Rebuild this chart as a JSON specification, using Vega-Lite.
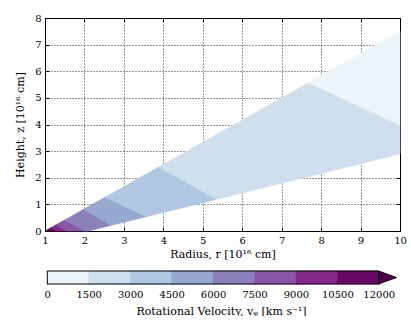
{
  "$schema": "https://vega.github.io/schema/vega-lite/v6.json",
  "background": "white",
  "padding": {"left": 14, "top": 12, "right": 0, "bottom": 0},
  "spacing": 9,
  "config": {
    "font": "DejaVu Serif",
    "view": {"stroke": "black", "strokeWidth": 1},
    "axis": {
      "labelFont": "DejaVu Serif", "titleFont": "DejaVu Serif",
      "labelFontSize": 10, "titleFontSize": 11, "titleFontWeight": "normal",
      "labelColor": "black", "titleColor": "black", "tickColor": "black",
      "domain": false, "labelFlush": false, "labelOverlap": false, "tickWidth": 1
    }
  },
  "datasets": {
    "bands": [
      {"band": "b7", "r": 1.0, "top": 0, "bot": 0},
      {"band": "b7", "r": 1.15, "top": 0.125, "bot": 0},
      {"band": "b7", "r": 1.3, "top": 0, "bot": 0},
      {"band": "b6", "r": 1.15, "top": 0.125, "bot": 0.125},
      {"band": "b6", "r": 1.29, "top": 0.2417, "bot": 0.0083},
      {"band": "b6", "r": 1.3, "top": 0.232, "bot": 0},
      {"band": "b6", "r": 1.54, "top": 0, "bot": 0},
      {"band": "b5", "r": 1.29, "top": 0.2417, "bot": 0.2417},
      {"band": "b5", "r": 1.5, "top": 0.4167, "bot": 0.0387},
      {"band": "b5", "r": 1.54, "top": 0.383, "bot": 0},
      {"band": "b5", "r": 2.0, "top": 0, "bot": 0},
      {"band": "b4", "r": 1.5, "top": 0.4167, "bot": 0.4167},
      {"band": "b4", "r": 1.98, "top": 0.8167, "bot": 0.0167},
      {"band": "b4", "r": 2.0, "top": 0.7994, "bot": 0},
      {"band": "b4", "r": 2.1, "top": 0.7131, "bot": 0},
      {"band": "b4", "r": 2.68, "top": 0.2123, "bot": 0.2123},
      {"band": "b3", "r": 1.98, "top": 0.8167, "bot": 0.8167},
      {"band": "b3", "r": 2.1, "top": 0.9167, "bot": 0.7131},
      {"band": "b3", "r": 2.52, "top": 1.2667, "bot": 0.3505},
      {"band": "b3", "r": 2.68, "top": 1.1557, "bot": 0.2123},
      {"band": "b3", "r": 3.57, "top": 0.538, "bot": 0.538},
      {"band": "b2", "r": 2.52, "top": 1.2667, "bot": 1.2667},
      {"band": "b2", "r": 3.57, "top": 2.1417, "bot": 0.538},
      {"band": "b2", "r": 3.88, "top": 2.4, "bot": 0.6515},
      {"band": "b2", "r": 5.36, "top": 1.193, "bot": 1.193},
      {"band": "b1", "r": 3.88, "top": 2.4, "bot": 2.4},
      {"band": "b1", "r": 5.36, "top": 3.633, "bot": 1.193},
      {"band": "b1", "r": 7.68, "top": 5.567, "bot": 2.042},
      {"band": "b1", "r": 10.0, "top": 3.98, "bot": 2.891},
      {"band": "b0", "r": 7.68, "top": 5.567, "bot": 5.567},
      {"band": "b0", "r": 10.0, "top": 7.5, "bot": 3.98}
    ],
    "cbar": [
      {"band": "b0", "lo": 0, "hi": 1500},
      {"band": "b1", "lo": 1500, "hi": 3000},
      {"band": "b2", "lo": 3000, "hi": 4500},
      {"band": "b3", "lo": 4500, "hi": 6000},
      {"band": "b4", "lo": 6000, "hi": 7500},
      {"band": "b5", "lo": 7500, "hi": 9000},
      {"band": "b6", "lo": 9000, "hi": 10500},
      {"band": "b7", "lo": 10500, "hi": 12000}
    ]
  },
  "vconcat": [
    {
      "width": 355,
      "height": 213,
      "layer": [
        {
          "data": {"name": "bands"},
          "mark": {"type": "area", "strokeWidth": 0.6},
          "encoding": {
            "x": {
              "field": "r", "type": "quantitative",
              "scale": {"domain": [1, 10], "nice": false, "zero": false},
              "axis": {
                "orient": "bottom", "values": [1, 2, 3, 4, 5, 6, 7, 8, 9, 10], "format": "d",
                "title": "Radius, r [10¹⁶ cm]", "grid": true, "gridDash": [1, 2],
                "gridColor": "black", "gridOpacity": 0.8, "tickSize": -4,
                "labelPadding": 8, "titlePadding": 3
              }
            },
            "y": {
              "field": "top", "type": "quantitative",
              "scale": {"domain": [0, 8], "nice": false},
              "axis": {
                "orient": "left", "values": [0, 1, 2, 3, 4, 5, 6, 7, 8], "format": "d",
                "title": "Height, z [10¹⁶ cm]", "grid": true, "gridDash": [1, 2],
                "gridColor": "black", "gridOpacity": 0.8, "tickSize": -4,
                "labelPadding": 8, "titlePadding": 9
              }
            },
            "y2": {"field": "bot"},
            "color": {
              "field": "band", "type": "nominal",
              "scale": {
                "domain": ["b0", "b1", "b2", "b3", "b4", "b5", "b6", "b7"],
                "range": ["#ecf4f9", "#cfdfed", "#afc7e0", "#95a9d0", "#8c80bb", "#8a56a7", "#84288c", "#670863"]
              },
              "legend": null
            },
            "stroke": {
              "field": "band", "type": "nominal",
              "scale": {
                "domain": ["b0", "b1", "b2", "b3", "b4", "b5", "b6", "b7"],
                "range": ["#ecf4f9", "#cfdfed", "#afc7e0", "#95a9d0", "#8c80bb", "#8a56a7", "#84288c", "#670863"]
              },
              "legend": null
            }
          }
        },
        {
          "data": {"name": "bands"},
          "mark": {"type": "point", "opacity": 0},
          "encoding": {
            "x": {
              "field": "r", "type": "quantitative",
              "axis": {"orient": "top", "values": [1, 2, 3, 4, 5, 6, 7, 8, 9, 10], "labels": false, "title": null, "grid": false, "tickSize": -4}
            },
            "y": {
              "field": "top", "type": "quantitative",
              "axis": {"orient": "right", "values": [0, 1, 2, 3, 4, 5, 6, 7, 8], "labels": false, "title": null, "grid": false, "tickSize": -4}
            }
          }
        }
      ],
      "resolve": {"axis": {"x": "independent", "y": "independent"}}
    },
    {
      "width": 352,
      "height": 13,
      "view": {"stroke": null},
      "layer": [
        {
          "data": {"name": "cbar"},
          "mark": {"type": "rect", "strokeWidth": 0.5},
          "encoding": {
            "x": {
              "field": "lo", "type": "quantitative",
              "scale": {"domain": [-83, 12660], "nice": false, "zero": false},
              "axis": {
                "values": [0, 1500, 3000, 4500, 6000, 7500, 9000, 10500, 12000], "format": "d",
                "title": "Rotational Velocity, vᵩ [km s⁻¹]", "grid": false, "tickSize": -4,
                "labelPadding": 9, "titlePadding": 6
              }
            },
            "x2": {"field": "hi"},
            "y": {"datum": 0, "type": "quantitative", "scale": {"domain": [0, 1], "nice": false}, "axis": null},
            "y2": {"datum": 1},
            "color": {"field": "band", "type": "nominal", "legend": null},
            "stroke": {"field": "band", "type": "nominal", "legend": null}
          }
        },
        {
          "data": {"values": [{}]},
          "mark": {"type": "point", "shape": "M-1,-0.72L1,0L-1,0.72Z", "size": 324, "filled": true, "fill": "#4d004b", "stroke": "black", "strokeWidth": 0.8, "opacity": 1},
          "encoding": {
            "x": {"datum": 12326, "type": "quantitative"},
            "y": {"datum": 0.5, "type": "quantitative"}
          }
        },
        {
          "data": {"values": [{}]},
          "mark": {"type": "rect", "fill": null, "stroke": "black", "strokeWidth": 1},
          "encoding": {
            "x": {"datum": 0, "type": "quantitative"},
            "x2": {"datum": 12000},
            "y": {"datum": 0, "type": "quantitative"},
            "y2": {"datum": 1}
          }
        }
      ]
    }
  ]
}
